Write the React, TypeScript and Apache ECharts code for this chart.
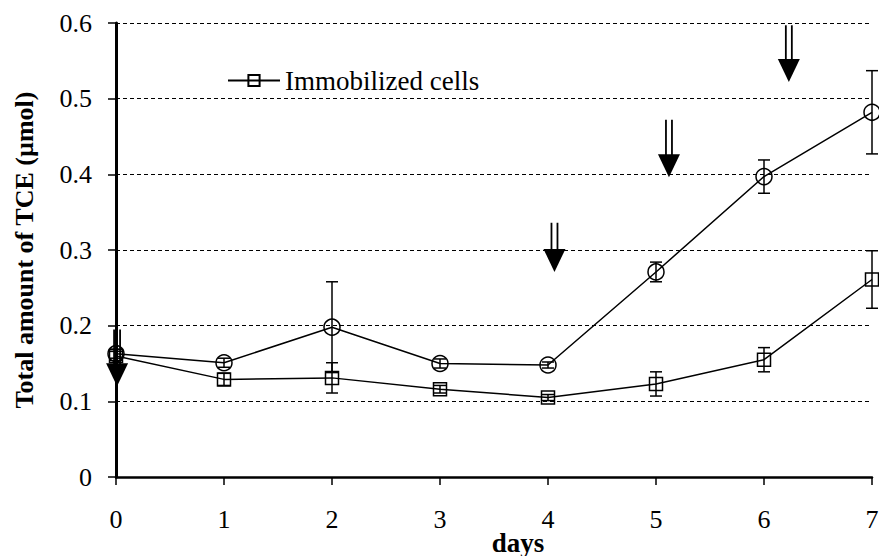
import React, { useEffect, useRef } from "react";
import * as echarts from "echarts";

const days = [0, 1, 2, 3, 4, 5, 6, 7];
const freeCells = [0.163, 0.151, 0.198, 0.15, 0.148, 0.271, 0.397, 0.482];
const freeErr = [0.006, 0.006, 0.06, 0.006, 0.004, 0.013, 0.022, 0.055];
const immobilized = [0.16, 0.129, 0.131, 0.116, 0.105, 0.123, 0.155, 0.261];
const immErr = [0.006, 0.008, 0.02, 0.005, 0.004, 0.016, 0.016, 0.038];
const arrowX = [0.01, 4.06, 5.12, 6.23];
const arrowTop = [0.195, 0.336, 0.472, 0.597];
const arrowTip = [0.12, 0.271, 0.396, 0.522];

const FONT = "Liberation Serif";

export default function App() {
  const ref = useRef<HTMLDivElement>(null);
  useEffect(() => {
    document.body.style.margin = "0";
    if (!ref.current) return;
    const chart = echarts.init(ref.current, null, { renderer: "svg" });

    const errData = (vals: number[], errs: number[]) =>
      days.map((d, i) => [d, vals[i] - errs[i], vals[i] + errs[i]]);

    const errRender = (params: any, api: any) => {
      const x = api.value(0);
      const lo = api.coord([x, api.value(1)]);
      const hi = api.coord([x, api.value(2)]);
      const w = 6;
      const st = { stroke: "#000", lineWidth: 1.5 };
      return {
        type: "group",
        children: [
          { type: "line", shape: { x1: lo[0], y1: lo[1], x2: hi[0], y2: hi[1] }, style: st },
          { type: "line", shape: { x1: lo[0] - w, y1: lo[1], x2: lo[0] + w, y2: lo[1] }, style: st },
          { type: "line", shape: { x1: hi[0] - w, y1: hi[1], x2: hi[0] + w, y2: hi[1] }, style: st },
        ],
      };
    };

    const arrowRender = (params: any, api: any) => {
      const x = api.value(0);
      const top = api.coord([x, api.value(1)]);
      const tip = api.coord([x, api.value(2)]);
      const headH = 23;
      const headW = 11;
      const cx = top[0];
      const shaftEnd = tip[1] - headH;
      const st = { stroke: "#000", lineWidth: 1.8 };
      return {
        type: "group",
        children: [
          { type: "line", shape: { x1: cx - 3, y1: top[1], x2: cx - 3, y2: shaftEnd + 1 }, style: st },
          { type: "line", shape: { x1: cx + 3, y1: top[1], x2: cx + 3, y2: shaftEnd + 1 }, style: st },
          {
            type: "polygon",
            shape: { points: [[cx - headW, shaftEnd], [cx + headW, shaftEnd], [cx, tip[1]]] },
            style: { fill: "#000" },
          },
        ],
      };
    };

    chart.setOption({
      animation: false,
      backgroundColor: "#fff",
      textStyle: { fontFamily: FONT },
      grid: { left: 116, right: 7, top: 23, bottom: 79, containLabel: false, outerBoundsMode: "none" },
      legend: {
        data: ["Immobilized cells"],
        left: 227,
        top: 67,
        padding: 0,
        itemWidth: 52,
        itemHeight: 14,
        itemGap: 10,
        textStyle: { fontFamily: FONT, fontSize: 27, color: "#000" },
      },
      xAxis: {
        type: "value",
        min: 0,
        max: 7,
        interval: 1,
        name: "days",
        nameLocation: "middle",
        nameGap: 52,
        nameMoveOverlap: false,
        nameTextStyle: { fontFamily: FONT, fontSize: 27, fontWeight: "bold", color: "#000", padding: [0, 0, 0, 48] },
        axisLine: { onZero: false, lineStyle: { color: "#000", width: 2.5 } },
        axisTick: { show: true, inside: false, length: 8, lineStyle: { color: "#000", width: 1.5 } },
        axisLabel: { fontFamily: FONT, fontSize: 26, color: "#000", margin: 29 },
        splitLine: { show: false },
      },
      yAxis: {
        type: "value",
        min: 0,
        max: 0.6,
        interval: 0.1,
        name: "Total amount of TCE (µmol)",
        nameLocation: "middle",
        nameGap: 79,
        nameMoveOverlap: false,
        nameTextStyle: { fontFamily: FONT, fontSize: 26, fontWeight: "bold", color: "#000" },
        axisLine: { show: true, lineStyle: { color: "#000", width: 3 } },
        axisTick: { show: true, inside: false, length: 8, lineStyle: { color: "#000", width: 1.5 } },
        axisLabel: { fontFamily: FONT, fontSize: 26, color: "#000", margin: 24 },
        splitLine: { show: true, lineStyle: { color: "#000", width: 1.2, type: [4, 3] } },
      },
      series: [
        {
          name: "Free cells",
          type: "line",
          data: days.map((d, i) => [d, freeCells[i]]),
          symbol: "circle",
          symbolSize: 16,
          lineStyle: { color: "#000", width: 1.5 },
          itemStyle: { color: "rgba(0,0,0,0)", borderColor: "#000", borderWidth: 1.5 },
          z: 3,
        },
        {
          name: "Immobilized cells",
          type: "line",
          data: days.map((d, i) => [d, immobilized[i]]),
          symbol: "rect",
          symbolSize: 13,
          lineStyle: { color: "#000", width: 1.5 },
          itemStyle: { color: "rgba(0,0,0,0)", borderColor: "#000", borderWidth: 1.5 },
          z: 3,
        },
        {
          name: "freeErr",
          type: "custom",
          renderItem: errRender,
          data: errData(freeCells, freeErr),
          encode: { x: 0, y: [1, 2] },
          z: 2,
        },
        {
          name: "immErr",
          type: "custom",
          renderItem: errRender,
          data: errData(immobilized, immErr),
          encode: { x: 0, y: [1, 2] },
          z: 2,
        },
        {
          name: "arrows",
          type: "custom",
          renderItem: arrowRender,
          data: arrowX.map((x, i) => [x, arrowTop[i], arrowTip[i]]),
          encode: { x: 0, y: [1, 2] },
          clip: false,
          z: 5,
        },
      ],
    });
    return () => chart.dispose();
  }, []);
  return <div ref={ref} style={{ width: 879, height: 556 }} />;
}
